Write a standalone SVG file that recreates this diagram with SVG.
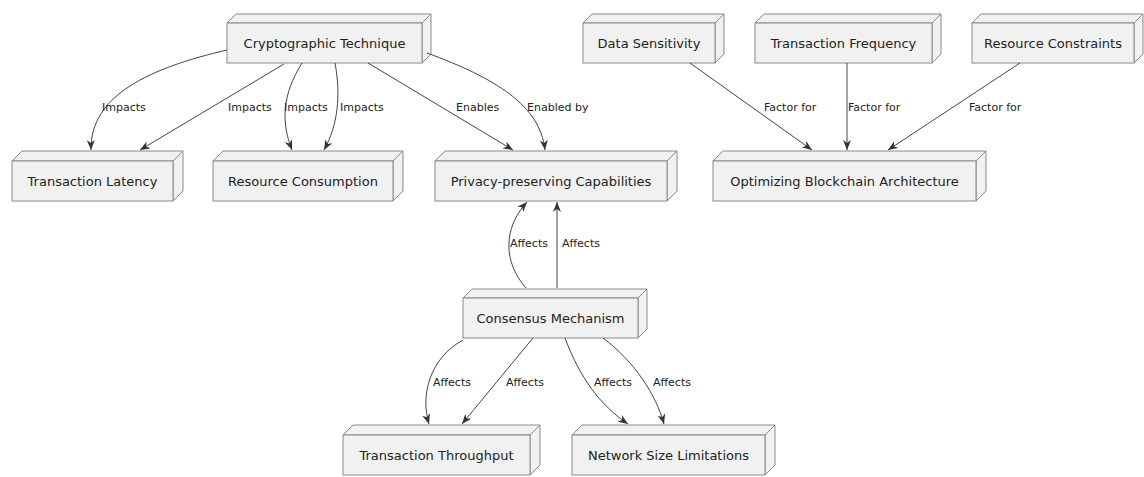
<svg xmlns="http://www.w3.org/2000/svg" width="1144" height="477" viewBox="0 0 1144 477">
<defs>
<style>
.n rect,.n path{fill:#F1F1F1;stroke:#8a8a8a;stroke-width:1}
.n text{font-family:"DejaVu Sans",sans-serif;font-size:13px;fill:#222;text-anchor:middle}
.e path{fill:none;stroke:#444;stroke-width:1}
.l text{font-family:"DejaVu Sans",sans-serif;font-size:11px;fill:#222}
</style>
<marker id="a" viewBox="0 0 10 8" refX="10" refY="4" markerWidth="10" markerHeight="8" markerUnits="userSpaceOnUse" orient="auto">
<path d="M0,0 L10,4 L0,8 L3,4 Z" fill="#333"/>
</marker>
</defs>
<rect width="1144" height="477" fill="#fff"/>

<g id="crypto" class="n"><path d="M227,23 L236,14 L431,14 L422,23 Z"/><path d="M422,23 L431,14 L431,54 L422,63 Z"/><rect x="227" y="23" width="195" height="40"/><text x="324.5" y="47.5">Cryptographic Technique</text></g>
<g id="latency" class="n"><path d="M12,161 L22,151 L183,151 L173,161 Z"/><path d="M173,161 L183,151 L183,191 L173,201 Z"/><rect x="12" y="161" width="161" height="40"/><text x="92.5" y="185.5">Transaction Latency</text></g>
<g id="resource" class="n"><path d="M213,161 L223,151 L403,151 L393,161 Z"/><path d="M393,161 L403,151 L403,191 L393,201 Z"/><rect x="213" y="161" width="180" height="40"/><text x="303" y="185.5">Resource Consumption</text></g>
<g id="privacy" class="n"><path d="M435,161 L445,151 L677,151 L667,161 Z"/><path d="M667,161 L677,151 L677,191 L667,201 Z"/><rect x="435" y="161" width="232" height="40"/><text x="551" y="185.5">Privacy-preserving Capabilities</text></g>
<g id="datasens" class="n"><path d="M583,23 L592,14 L724,14 L715,23 Z"/><path d="M715,23 L724,14 L724,54 L715,63 Z"/><rect x="583" y="23" width="132" height="40"/><text x="649" y="47.5">Data Sensitivity</text></g>
<g id="freq" class="n"><path d="M755,23 L764,14 L941,14 L932,23 Z"/><path d="M932,23 L941,14 L941,54 L932,63 Z"/><rect x="755" y="23" width="177" height="40"/><text x="843.5" y="47.5">Transaction Frequency</text></g>
<g id="constraints" class="n"><path d="M972,23 L981,14 L1143,14 L1134,23 Z"/><path d="M1134,23 L1143,14 L1143,54 L1134,63 Z"/><rect x="972" y="23" width="162" height="40"/><text x="1053" y="47.5">Resource Constraints</text></g>
<g id="optimizing" class="n"><path d="M713,161 L723,151 L986,151 L976,161 Z"/><path d="M976,161 L986,151 L986,191 L976,201 Z"/><rect x="713" y="161" width="263" height="40"/><text x="844.5" y="185.5">Optimizing Blockchain Architecture</text></g>
<g id="consensus" class="n"><path d="M463,298 L472,289 L647,289 L638,298 Z"/><path d="M638,298 L647,289 L647,329 L638,338 Z"/><rect x="463" y="298" width="175" height="40"/><text x="550.5" y="322.5">Consensus Mechanism</text></g>
<g id="throughput" class="n"><path d="M343,435 L353,425 L540,425 L530,435 Z"/><path d="M530,435 L540,425 L540,465 L530,475 Z"/><rect x="343" y="435" width="187" height="40"/><text x="436.5" y="459.5">Transaction Throughput</text></g>
<g id="network" class="n"><path d="M572,435 L582,425 L775,425 L765,435 Z"/><path d="M765,435 L775,425 L775,465 L765,475 Z"/><rect x="572" y="435" width="193" height="40"/><text x="668.5" y="459.5">Network Size Limitations</text></g>

<g id="connectors" class="e">
<path d="M227,50 C150,68 90,95 91,150" marker-end="url(#a)"/>
<path d="M284,64 L140,150" marker-end="url(#a)"/>
<path d="M302,63 C282,95 281,122 292,150" marker-end="url(#a)"/>
<path d="M335,63 C341,95 338,125 324,150" marker-end="url(#a)"/>
<path d="M368,63 L513,150" marker-end="url(#a)"/>
<path d="M427,53 C495,78 540,105 545,150" marker-end="url(#a)"/>
<path d="M690,63 L812,150" marker-end="url(#a)"/>
<path d="M847,63 L847,150" marker-end="url(#a)"/>
<path d="M1020,63 L888,150" marker-end="url(#a)"/>
<path d="M526,288 C503,262 503,228 527,202" marker-end="url(#a)"/>
<path d="M557,288 L557,202" marker-end="url(#a)"/>
<path d="M463,340 C430,358 420,395 429,424" marker-end="url(#a)"/>
<path d="M533,338 L462,424" marker-end="url(#a)"/>
<path d="M565,338 C580,378 600,405 628,424" marker-end="url(#a)"/>
<path d="M603,338 C635,362 656,395 664,424" marker-end="url(#a)"/>
</g>

<g id="labels" class="l">
<text x="102" y="111">Impacts</text>
<text x="228" y="111">Impacts</text>
<text x="284" y="111">Impacts</text>
<text x="340" y="111">Impacts</text>
<text x="456" y="111">Enables</text>
<text x="527" y="111">Enabled by</text>
<text x="764" y="111">Factor for</text>
<text x="848" y="111">Factor for</text>
<text x="969" y="111">Factor for</text>
<text x="510" y="247">Affects</text>
<text x="562" y="247">Affects</text>
<text x="433" y="386">Affects</text>
<text x="506" y="386">Affects</text>
<text x="594" y="386">Affects</text>
<text x="653" y="386">Affects</text>
</g>
</svg>
